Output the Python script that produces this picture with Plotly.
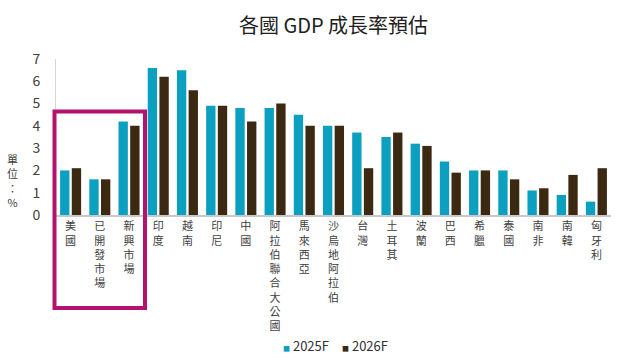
import plotly.graph_objects as go

categories = ["美國", "已開發市場", "新興市場", "印度", "越南", "印尼", "中國",
              "阿拉伯聯合大公國", "馬來西亞", "沙烏地阿拉伯", "台灣", "土耳其", "波蘭",
              "巴西", "希臘", "泰國", "南非", "南韓", "匈牙利"]
gdp_2025 = [2.0, 1.6, 4.2, 6.6, 6.5, 4.9, 4.8, 4.8, 4.5, 4.0, 3.7, 3.5, 3.2,
            2.4, 2.0, 2.0, 1.1, 0.9, 0.6]
gdp_2026 = [2.1, 1.6, 4.0, 6.2, 5.6, 4.9, 4.2, 5.0, 4.0, 4.0, 2.1, 3.7, 3.1,
            1.9, 2.0, 1.6, 1.2, 1.8, 2.1]
series_names = ["2025F", "2026F"]
y_ticks = [0, 1, 2, 3, 4, 5, 6, 7]

teal = "#0CA0C0"
brown = "#3B2912"
cjk = "Noto Sans CJK TC"

tick_text = ["<br>".join(list(c)) for c in categories]

fig = go.Figure()
fig.add_trace(go.Bar(x=categories, y=gdp_2025, name=series_names[0],
                     marker=dict(color=teal, line=dict(width=0)), showlegend=False))
fig.add_trace(go.Bar(x=categories, y=gdp_2026, name=series_names[1],
                     marker=dict(color=brown, line=dict(width=0)), showlegend=False))

fig.update_layout(
    width=630, height=364,
    margin=dict(l=56, r=19, t=59, b=149, autoexpand=False),
    paper_bgcolor="white", plot_bgcolor="white",
    barmode="group", bargap=0.2, bargroupgap=0.2,
    font=dict(family=cjk, color="#404040"),
    showlegend=False,
    title=dict(text="各國 GDP 成長率預估", x=0.5, xref="paper", xanchor="center",
               y=1 - 26 / 364, yanchor="middle",
               font=dict(family=cjk, size=20, color="#202020")),
    xaxis=dict(type="category", categoryorder="array", categoryarray=categories,
               tickmode="array", tickvals=categories, ticktext=tick_text,
               tickangle=0, showline=True, linecolor="#C8C8C8", linewidth=2,
               ticks="", showgrid=False, zeroline=False, automargin=False,
               tickfont=dict(family=cjk, size=11, color="#404040")),
    yaxis=dict(range=[0, 7], tickvals=y_ticks, showline=True, linecolor="#D6D6D6",
               linewidth=1, ticks="", showgrid=False, zeroline=False,
               ticklabelstandoff=12, automargin=False,
               tickfont=dict(family=cjk, size=14, color="#404040")),
)

# compact legend built from the series names / colours
for i, (nm, col) in enumerate(zip(series_names, [teal, brown])):
    lx = [281, 340][i]
    fig.add_annotation(
        text=f"<span style='color:{col};font-size:7px'>■</span> {nm}",
        xref="paper", yref="paper", x=(lx - 56) / 555, y=(215 - 345) / 156,
        xanchor="left", yanchor="middle", showarrow=False,
        font=dict(family=cjk, size=13, color="#303030"))

fig.add_annotation(text="單<br>位<br>：<br>%", xref="paper", yref="paper",
                   x=(12 - 56) / 555, y=(215 - 180) / 156, showarrow=False,
                   xanchor="center", yanchor="middle",
                   font=dict(family=cjk, size=11, color="#404040"))

fig.add_shape(type="rect", xref="paper", yref="paper",
              x0=(54.5 - 56) / 555, x1=(145 - 56) / 555,
              y0=(215 - 308) / 156, y1=(215 - 111.5) / 156,
              line=dict(color="#B3126F", width=4), fillcolor="rgba(0,0,0,0)",
              layer="above")

fig.write_html("out.html", config={"displayModeBar": False},
               post_script="document.body.style.margin='0';")
